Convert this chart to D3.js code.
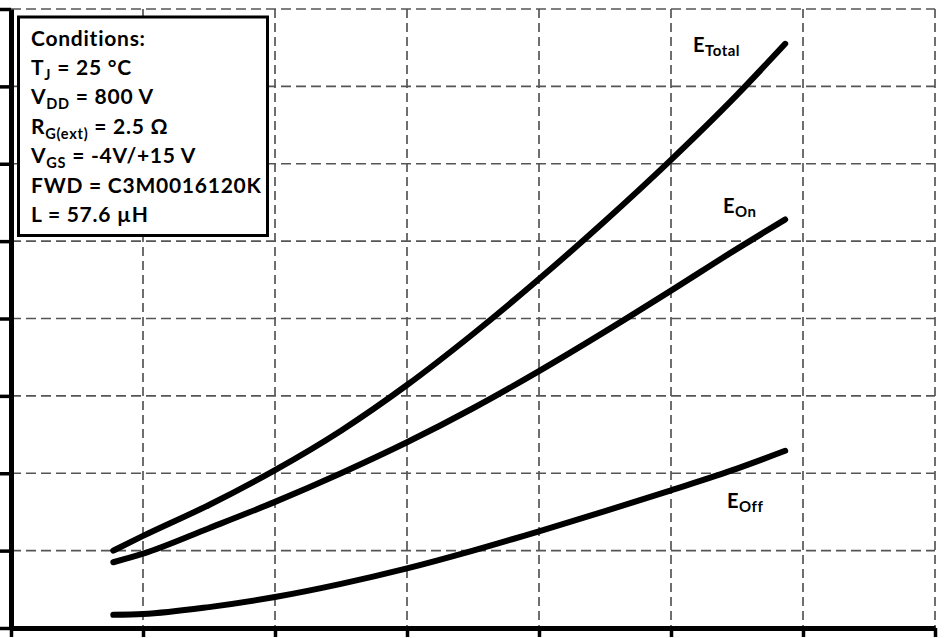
<!DOCTYPE html>
<html><head><meta charset="utf-8">
<script src="https://cdn.jsdelivr.net/npm/d3@7"></script>
<style>body{margin:0;background:#fff}svg{display:block}</style>
</head><body>
<svg id="c" width="945" height="638"></svg>
<script>
const current = [15.5, 20, 30, 40, 50, 60, 70, 80, 90, 100, 110, 117.3];
const eTotal = [1.00, 1.19, 1.59, 2.04, 2.55, 3.14, 3.80, 4.51, 5.26, 6.05, 6.89, 7.55];
const eOn    = [0.85, 0.96, 1.29, 1.63, 2.00, 2.40, 2.84, 3.32, 3.83, 4.36, 4.90, 5.28];
const eOff   = [0.17, 0.18, 0.27, 0.40, 0.57, 0.77, 1.00, 1.25, 1.51, 1.78, 2.06, 2.29];
const xTicks = [0, 20, 40, 60, 80, 100, 120, 140];
const yTicks = [0, 1, 2, 3, 4, 5, 6, 7, 8];
const conditions = [
  [["Conditions:", ""]],
  [["T", ""], ["J", "sub"], [" = 25 °C", ""]],
  [["V", ""], ["DD", "sub"], [" = 800 V", ""]],
  [["R", ""], ["G(ext)", "sub"], [" = 2.5 Ω", ""]],
  [["V", ""], ["GS", "sub"], [" = -4V/+15 V", ""]],
  [["FWD = C3M0016120K", ""]],
  [["L = 57.6 µH", ""]]
];
const seriesLabels = ["Total", "On", "Off"];

const svg = d3.select("#c");
const x = d3.scaleLinear().domain([0, 140]).range([11, 935]);
const y = d3.scaleLinear().domain([0, 8]).range([628, 9]);
const font = "Lato, 'Open Sans', sans-serif";

// grid
svg.append("g").selectAll("line").data(xTicks.slice(1)).join("line")
  .attr("x1", d => x(d)).attr("x2", d => x(d)).attr("y1", y(8)).attr("y2", y(0))
  .attr("stroke", "#222").attr("stroke-width", 1.3).attr("stroke-dasharray", "9,5");
svg.append("g").selectAll("line").data(yTicks.slice(1)).join("line")
  .attr("x1", x(0)).attr("x2", x(140)).attr("y1", d => y(d)).attr("y2", d => y(d))
  .attr("stroke", "#555").attr("stroke-width", 1.6).attr("stroke-dasharray", "10,5");

// axes
const gx = svg.append("g").attr("transform", `translate(0,${y(0)})`)
  .call(d3.axisBottom(x).tickValues(xTicks).tickSize(9).tickSizeOuter(0).tickFormat(""));
const gy = svg.append("g").attr("transform", `translate(${x(0)},0)`)
  .call(d3.axisLeft(y).tickValues(yTicks).tickSize(12).tickSizeOuter(0).tickFormat(""));
[gx, gy].forEach(g => {
  g.select(".domain").attr("stroke", "#000").attr("stroke-width", 5);
  g.selectAll(".tick line").attr("stroke", "#000").attr("stroke-width", 3.5);
});

// curves
const series = [eTotal, eOn, eOff];
const line = d3.line().x((d, i) => x(current[i])).y(d => y(d)).curve(d3.curveMonotoneX);
svg.append("g").selectAll("path").data(series).join("path")
  .attr("d", d => line(d)).attr("fill", "none").attr("stroke", "#000")
  .attr("stroke-width", 6).attr("stroke-linecap", "round").attr("stroke-linejoin", "round");

// series labels
const labelPos = [[693, 52], [723, 213], [727, 508]];
seriesLabels.forEach((name, k) => {
  const t = svg.append("text").attr("x", labelPos[k][0]).attr("y", labelPos[k][1])
    .attr("font-family", font).attr("font-weight", "bold").attr("font-size", 20)
    .attr("letter-spacing", 0.5).attr("fill", "#000");
  t.append("tspan").text("E");
  t.append("tspan").attr("dy", 4).attr("font-size", 15).text(name);
});

// conditions box
svg.append("rect").attr("x", 18.5).attr("y", 17).attr("width", 249).attr("height", 218.5)
  .attr("fill", "#fff").attr("stroke", "#000").attr("stroke-width", 3);
conditions.forEach((parts, i) => {
  const t = svg.append("text").attr("x", 31).attr("y", 45.5 + i * 29.4)
    .attr("font-family", font).attr("font-weight", "bold").attr("font-size", 21)
    .attr("letter-spacing", 0.75).attr("fill", "#000");
  let sub = false;
  parts.forEach(([txt, kind]) => {
    const ts = t.append("tspan").text(txt);
    if (kind === "sub") { ts.attr("dy", 5).attr("font-size", 14.5); sub = true; }
    else if (sub) { ts.attr("dy", -5); sub = false; }
  });
});
</script>
</body></html>
